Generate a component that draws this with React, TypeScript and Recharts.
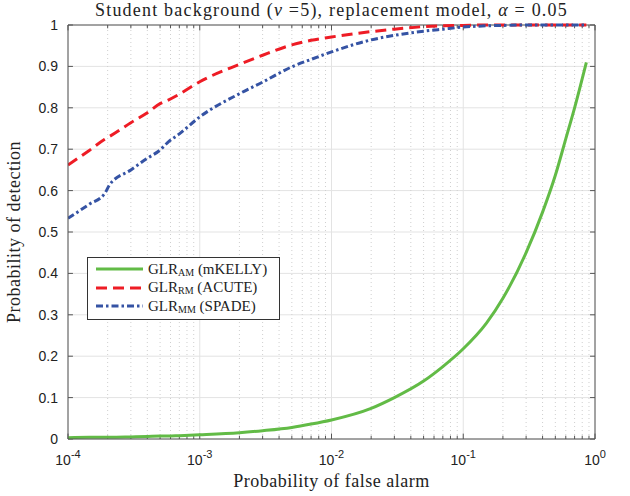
import { LineChart, Line, XAxis, YAxis, CartesianGrid, ReferenceLine } from 'recharts';

// probability of false alarm (x) and detection curves
const pfa = [1e-4, 1.45e-4, 1.9e-4, 2.07e-4, 3e-4, 4e-4, 5e-4, 5.7e-4, 7e-4, 1e-3, 2e-3, 3e-3, 5e-3, 7e-3, 1e-2, 2e-2, 3e-2, 5e-2, 0.07, 0.1, 0.15, 0.2, 0.3, 0.4, 0.5, 0.6, 0.7, 0.86];
const glrAM = [0.003, 0.004, 0.004, 0.004, 0.005, 0.006, 0.007, 0.007, 0.008, 0.01, 0.015, 0.02, 0.028, 0.036, 0.046, 0.074, 0.1, 0.14, 0.175, 0.218, 0.28, 0.34, 0.45, 0.548, 0.637, 0.725, 0.8, 0.91];
const glrRM = [0.662, 0.697, 0.724, 0.731, 0.764, 0.788, 0.81, 0.818, 0.833, 0.863, 0.905, 0.927, 0.952, 0.963, 0.971, 0.984, 0.99, 0.996, 0.998, 0.999, 1, 1, 1, 1, 1, 1, 1, 1];
const glrMM = [0.533, 0.567, 0.593, 0.614, 0.65, 0.678, 0.698, 0.716, 0.737, 0.778, 0.834, 0.862, 0.899, 0.917, 0.935, 0.964, 0.975, 0.985, 0.99, 0.995, 0.998, 0.999, 1, 1, 1, 1, 1, 1];

const xTicks = [1e-4, 1e-3, 1e-2, 1e-1, 1];
const xTickExp = ['-4', '-3', '-2', '-1', '0'];
const yTicks = [0, 0.1, 0.2, 0.3, 0.4, 0.5, 0.6, 0.7, 0.8, 0.9, 1];

const series = [
  { key: 'am', sub: 'AM', tag: '(mKELLY)', color: '#62bb46', dash: undefined },
  { key: 'rm', sub: 'RM', tag: '(ACUTE)', color: '#ee1c25', dash: '11 6' },
  { key: 'mm', sub: 'MM', tag: '(SPADE)', color: '#3553a4', dash: '7 3 2.5 3' },
];

const data = pfa.map((p, i) => ({ pfa: p, am: glrAM[i], rm: glrRM[i], mm: glrMM[i] }));

const minorTicks: number[] = [];
xTicks.slice(0, -1).forEach((d) => {
  for (let k = 2; k <= 9; k++) minorTicks.push(k * d);
});

const AXIS = '#555';
const SERIF = '"Liberation Serif", "Times New Roman", serif';
const SANS = '"Liberation Sans", Arial, sans-serif';
const labelStyle = { fontFamily: SERIF, fontSize: 18, fill: '#222', letterSpacing: 0.5 };

function XTick(props: any) {
  const { x, y, payload } = props;
  const i = xTicks.indexOf(payload.value);
  return (
    <text x={x} y={y + 26} textAnchor="middle" fontFamily={SANS} fontSize={14} fill="#222">
      10
      <tspan dy={-7} fontSize={11}>{xTickExp[i]}</tspan>
    </text>
  );
}

function LegendBox() {
  return (
    <div
      style={{
        position: 'absolute',
        left: 87,
        top: 257,
        width: 193,
        height: 63,
        border: '1px solid #333',
        background: '#fff',
        fontFamily: SERIF,
        fontSize: 15,
        color: '#222',
        paddingTop: 2,
        boxSizing: 'border-box',
      }}
    >
      {series.map((s) => (
        <div key={s.key} style={{ display: 'flex', alignItems: 'center', height: 18.5 }}>
          <svg width={52} height={10} style={{ marginLeft: 8 }}>
            <line x1={0} y1={5} x2={47} y2={5} stroke={s.color} strokeWidth={3} strokeDasharray={s.dash} />
          </svg>
          <span>
            GLR<sub style={{ fontSize: 10, verticalAlign: '-2px' }}>{s.sub}</sub> {s.tag}
          </span>
        </div>
      ))}
    </div>
  );
}

export default function App() {
  return (
    <div style={{ position: 'absolute', left: 0, top: 0, width: 630, height: 496, background: '#fff' }}>
      <div
        style={{
          position: 'absolute',
          left: 0,
          top: 0,
          width: 663,
          textAlign: 'center',
          fontFamily: SERIF,
          fontSize: 18,
          letterSpacing: 1.2,
          color: '#222',
          lineHeight: '20px',
          zIndex: 2,
        }}
      >
        Student background (<i>ν</i> =5), replacement model, <i>α</i> = 0.05
      </div>
      <LineChart width={630} height={496} data={data} margin={{ top: 25, right: 35, left: 0, bottom: 0 }}>
        <CartesianGrid stroke="#e3e3e3" horizontalValues={yTicks} verticalValues={xTicks} />
        {minorTicks.map((v) => (
          <ReferenceLine key={'g' + v} x={v} stroke="#cfcfcf" strokeDasharray="1 3" />
        ))}
        <XAxis
          dataKey="pfa"
          type="number"
          scale="log"
          domain={[1e-4, 1]}
          ticks={xTicks}
          interval={0}
          allowDataOverflow
          height={57}
          tickLine={false}
          tickSize={0}
          tickMargin={0}
          axisLine={{ stroke: AXIS }}
          tick={<XTick />}
          label={{ value: 'Probability of false alarm', position: 'insideBottom', offset: 9, style: labelStyle }}
        />
        <YAxis
          type="number"
          domain={[0, 1]}
          ticks={yTicks}
          interval={0}
          width={68}
          tickLine={false}
          tickSize={0}
          tickMargin={10}
          axisLine={{ stroke: AXIS }}
          tickFormatter={(v: number) => String(v)}
          tick={{ fontFamily: SANS, fontSize: 14, fill: '#222' }}
          label={{
            value: 'Probability of detection',
            angle: -90,
            position: 'insideLeft',
            offset: 14,
            style: { ...labelStyle, textAnchor: 'middle' },
          }}
        />
        <ReferenceLine y={1} stroke={AXIS} />
        <ReferenceLine x={1} stroke={AXIS} />
        {/* inward tick marks, bottom/top */}
        {xTicks.map((v) => (
          <ReferenceLine key={'tb' + v} segment={[{ x: v, y: 0 }, { x: v, y: 0.013 }]} stroke={AXIS} />
        ))}
        {xTicks.map((v) => (
          <ReferenceLine key={'tt' + v} segment={[{ x: v, y: 1 }, { x: v, y: 0.987 }]} stroke={AXIS} />
        ))}
        {minorTicks.map((v) => (
          <ReferenceLine key={'mb' + v} segment={[{ x: v, y: 0 }, { x: v, y: 0.008 }]} stroke={AXIS} />
        ))}
        {minorTicks.map((v) => (
          <ReferenceLine key={'mt' + v} segment={[{ x: v, y: 1 }, { x: v, y: 0.992 }]} stroke={AXIS} />
        ))}
        {/* inward tick marks, left/right */}
        {yTicks.map((v) => (
          <ReferenceLine key={'tl' + v} segment={[{ x: 1e-4, y: v }, { x: 1.09e-4, y: v }]} stroke={AXIS} />
        ))}
        {yTicks.map((v) => (
          <ReferenceLine key={'tr' + v} segment={[{ x: 0.917, y: v }, { x: 1, y: v }]} stroke={AXIS} />
        ))}
        {series.map((s) => (
          <Line
            key={s.key}
            type="monotone"
            dataKey={s.key}
            stroke={s.color}
            strokeWidth={3}
            strokeDasharray={s.dash}
            dot={false}
            isAnimationActive={false}
          />
        ))}
      </LineChart>
      <LegendBox />
    </div>
  );
}
